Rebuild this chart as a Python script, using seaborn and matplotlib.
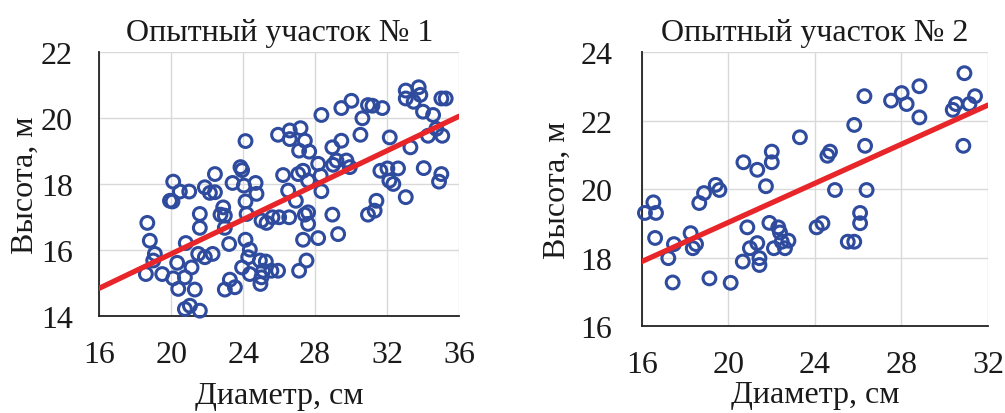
import matplotlib
matplotlib.use("Agg")
import matplotlib.pyplot as plt
import seaborn as sns
import pandas as pd

# ---- Data: plot 1 ----
diam1 = [33.04, 33.76, 33.04, 33.85, 33.48, 35.02, 35.26, 30.02, 29.46, 30.94,
         31.19, 31.74, 28.35, 30.63, 34.0, 34.56, 34.74, 34.28, 35.07, 30.52,
         32.15, 33.3, 24.13, 25.94, 26.59, 27.19, 26.59, 27.43, 27.11, 27.67,
         28.96, 29.46, 29.19, 29.74, 29.93, 29.0, 28.17, 28.31, 27.33, 27.06,
         27.61, 26.22, 26.5, 26.93, 28.35, 31.63, 32.02, 32.61, 32.13, 32.35,
         34.04, 35.02, 34.89, 33.04, 31.41, 31.31, 30.94, 28.96, 29.28, 28.17,
         27.33, 27.61, 27.43, 27.61, 27.52, 27.11, 20.11, 19.93, 20.07, 20.48,
         21.0, 21.87, 22.15, 22.43, 22.43, 23.41, 23.85, 23.94, 24.04, 24.69,
         24.74, 24.13, 24.19, 22.89, 22.98, 22.74, 22.98, 21.59, 21.59, 18.67,
         18.81, 19.09, 19.0, 18.59, 19.5, 20.81, 21.5, 21.87, 22.3, 20.33,
         20.11, 20.76, 21.13, 20.39, 21.31, 20.76, 21.04, 21.59, 23.22, 23.26,
         22.98, 23.54, 24.13, 24.37, 24.28, 23.94, 24.37, 24.93, 25.26, 25.11,
         25.02, 24.96, 25.57, 25.94, 25.02, 25.3, 25.63, 26.0, 26.56]
height1 = [20.84, 20.94, 20.6, 20.71, 20.5, 20.6, 20.6, 20.53, 20.31, 20.4,
           20.38, 20.31, 20.1, 20.0, 20.2, 20.1, 19.68, 19.47, 19.47, 19.5,
           19.42, 19.12, 19.31, 19.5, 19.63, 19.7, 19.37, 19.32, 19.02, 18.99,
           19.12, 19.32, 18.72, 18.72, 18.52, 18.59, 18.62, 18.26, 18.41, 18.31,
           18.11, 18.28, 17.81, 17.5, 17.79, 18.41, 18.48, 18.48, 18.11, 18.01,
           18.49, 18.31, 18.08, 17.61, 17.5, 17.2, 17.08, 17.08, 16.49, 16.37,
           16.32, 17.15, 17.08, 16.8, 15.69, 15.38, 18.08, 17.5, 17.48, 17.78,
           17.78, 17.91, 17.74, 17.76, 18.31, 18.04, 18.52, 18.43, 17.96, 18.04,
           17.71, 17.48, 17.1, 17.3, 17.05, 17.08, 16.68, 17.1, 16.68, 16.83,
           16.29, 15.89, 15.69, 15.28, 15.28, 16.22, 15.89, 15.79, 15.89, 15.62,
           15.15, 15.18, 15.48, 14.83, 14.81, 14.22, 14.32, 14.17, 16.19, 15.11,
           14.81, 14.88, 16.32, 16.02, 15.79, 15.48, 15.28, 15.69, 15.66, 15.38,
           15.18, 14.98, 15.38, 15.38, 16.9, 16.83, 17.0, 17.0, 17.0]
trend1_x = [16, 36]
trend1_y = [14.85, 20.06]

# ---- Data: plot 2 ----
diam2 = [30.91, 28.83, 26.29, 27.52, 28.01, 28.24, 28.83, 30.52, 30.37, 31.14,
         31.4, 30.86, 25.82, 26.32, 23.31, 22.01, 22.01, 20.7, 21.34, 21.74,
         24.7, 24.58, 24.93, 26.39, 26.09, 26.09, 19.42, 19.59, 18.88, 18.66,
         16.54, 16.66, 16.15, 16.62, 17.23, 17.43, 17.49, 18.26, 18.36, 18.51,
         19.13, 20.11, 20.67, 20.88, 21.0, 21.34, 21.44, 21.44, 21.9, 22.31,
         22.39, 22.11, 22.47, 22.62, 22.78, 24.08, 24.35, 25.52, 25.82]
height2 = [23.39, 23.01, 22.72, 22.59, 22.81, 22.49, 22.1, 22.49, 22.32, 22.49,
           22.72, 21.27, 21.88, 21.27, 21.52, 21.1, 20.79, 20.79, 20.57, 20.09,
           21.1, 20.98, 19.98, 19.98, 19.31, 19.01, 20.13, 19.98, 19.89, 19.6,
           19.62, 19.31, 19.31, 18.58, 17.99, 17.28, 18.4, 18.72, 18.28, 18.4,
           17.4, 17.27, 17.89, 18.89, 18.28, 18.43, 17.99, 17.79, 19.02, 18.89,
           18.74, 18.28, 18.47, 18.28, 18.5, 18.89, 19.01, 18.47, 18.47]
trend2_x = [16, 32]
trend2_y = [17.89, 22.46]

titles = ["Опытный участок № 1", "Опытный участок № 2"]
xlabel = "Диаметр, см"
ylabel = "Высота, м"
xticks1 = [16, 20, 24, 28, 32, 36]
yticks1 = [14, 16, 18, 20, 22]
xticks2 = [16, 20, 24, 28, 32]
yticks2 = [16, 18, 20, 22, 24]

sns.set_theme(style="white")
plt.rcParams["font.family"] = ["Liberation Serif", "DejaVu Serif"]

PT_BLUE = "#2F4B9E"
LINE_RED = "#E8262A"
TXT = "#1a1a1a"

fig = plt.figure(figsize=(10.05, 4.14), dpi=100)
ax1 = fig.add_axes([0.0988, 0.2336, 0.3579, 0.6377])
ax2 = fig.add_axes([0.6385, 0.2094, 0.3446, 0.6618])

panels = [
    (ax1, diam1, height1, trend1_x, trend1_y, xticks1, yticks1, titles[0], 9, 1, 19),
    (ax2, diam2, height2, trend2_x, trend2_y, xticks2, yticks2, titles[1], 1, 6, 21),
]

for ax, dx, hy, tx, ty, xt, yt, title, xlp, ylp, ypad in panels:
    df = pd.DataFrame({"d": dx, "h": hy})
    sns.scatterplot(data=df, x="d", y="h", ax=ax, marker="o", s=85,
                    facecolor="none", edgecolor=PT_BLUE, linewidth=2.2,
                    clip_on=False, zorder=3)
    sns.lineplot(x=tx, y=ty, ax=ax, color=LINE_RED, linewidth=3.8, zorder=4)
    ax.set_xlim(xt[0], xt[-1])
    ax.set_ylim(yt[0], yt[-1])
    ax.set_xticks(xt)
    ax.set_yticks(yt)
    ax.grid(True, color="#D9D9D9", linewidth=1.0)
    ax.set_axisbelow(True)
    for side in ["top", "right"]:
        ax.spines[side].set_visible(False)
    for side in ["left", "bottom"]:
        ax.spines[side].set_color("#222222")
        ax.spines[side].set_linewidth(1.3)
    ax.tick_params(axis="both", direction="in", length=6, width=1.3,
                   color="#222222", labelsize=23, labelcolor=TXT)
    ax.tick_params(axis="x", pad=17)
    ax.tick_params(axis="y", pad=ypad)
    ax.set_title(title, fontsize=23, pad=9, color=TXT)
    ax.set_xlabel(xlabel, fontsize=23, labelpad=xlp, color=TXT)
    ax.set_ylabel(ylabel, fontsize=23, labelpad=ylp, color=TXT)

fig.savefig("out.png", dpi=100, facecolor="white")
